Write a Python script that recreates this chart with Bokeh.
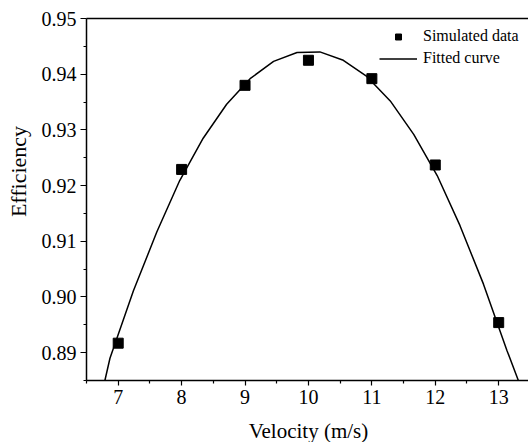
import math
from bokeh.plotting import figure
from bokeh.models import (Range1d, FixedTicker, NumeralTickFormatter, Legend,
                          LegendItem, Label, LinearAxis)
from bokeh.embed import file_html
from bokeh.resources import INLINE

# ---- data ----
velocity = [7, 8, 9, 10, 11, 12, 13]
efficiency = [0.8917, 0.9229, 0.9380, 0.9425, 0.9392, 0.9237, 0.8954]

# fitted curve vertices as they appear (starts/ends where it meets the x axis)
fit_x = [6.79, 6.87, 7.24, 7.61, 7.97, 8.34, 8.71, 9.08, 9.45, 9.82,
         10.18, 10.55, 10.92, 11.29, 11.66, 12.03, 12.39, 12.76, 13.13, 13.31]
fit_y = [0.8850, 0.8890, 0.9011, 0.9117, 0.9209, 0.9285, 0.9346, 0.9392, 0.9423, 0.9439,
         0.9440, 0.9425, 0.9396, 0.9352, 0.9292, 0.9218, 0.9128, 0.9023, 0.8904, 0.8850]

x_ticks = [7, 8, 9, 10, 11, 12, 13]
x_minor = [6.5, 7.5, 8.5, 9.5, 10.5, 11.5, 12.5]
y_ticks = [0.89, 0.90, 0.91, 0.92, 0.93, 0.94, 0.95]
y_minor = [0.885, 0.895, 0.905, 0.915, 0.925, 0.935, 0.945]

x_lo, x_hi = 6.5, 13.47
y_lo, y_hi = 0.885, 0.95

x_title = "Velocity (m/s)"
y_title = "Efficiency"
series_names = ["Simulated data", "Fitted curve"]

FONT = "Liberation Serif"

# frame covers the whole canvas; axes are pinned inside it
W, H = 528, 442
left_px, top_px, bottom_px = 86, 18, 380
sx = (W - left_px) / (x_hi - x_lo)
sy = (bottom_px - top_px) / (y_hi - y_lo)
x_start = x_lo - left_px / sx
y_end = y_hi + top_px / sy
y_start = y_lo - (H - bottom_px) / sy

p = figure(width=W, height=H, output_backend="svg", toolbar_location=None,
           x_range=Range1d(x_start, x_hi), y_range=Range1d(y_start, y_end),
           x_axis_location=None, y_axis_location=None,
           min_border=0, min_border_left=0, min_border_right=0,
           min_border_top=0, min_border_bottom=0)
p.background_fill_color = "white"
p.border_fill_color = "white"
p.outline_line_color = None
p.grid.visible = False


def style(ax):
    ax.axis_line_color = "black"
    ax.axis_line_width = 1.5
    ax.major_tick_line_color = "black"
    ax.minor_tick_line_color = "black"
    ax.major_tick_line_width = 1.2
    ax.minor_tick_line_width = 1.2
    ax.major_tick_in = 0
    ax.minor_tick_in = 0
    ax.major_label_text_font = FONT
    ax.major_label_text_font_size = "20px"
    ax.major_label_text_color = "black"
    ax.major_label_standoff = 4


xax = LinearAxis(fixed_location=y_lo, bounds=(x_lo, x_hi),
                 ticker=FixedTicker(ticks=x_ticks, minor_ticks=x_minor))
style(xax)
xax.major_tick_out = 5
xax.minor_tick_out = 3
p.add_layout(xax, "below")

yax = LinearAxis(fixed_location=x_lo, bounds=(y_lo, y_hi),
                 ticker=FixedTicker(ticks=y_ticks, minor_ticks=y_minor),
                 formatter=NumeralTickFormatter(format="0.00"))
style(yax)
yax.major_tick_out = 6
yax.minor_tick_out = 3
p.add_layout(yax, "left")

# top border (axis without ticks/labels)
tax = LinearAxis(fixed_location=y_hi, bounds=(x_lo, x_hi),
                 ticker=FixedTicker(ticks=[]), major_label_text_font_size="0px")
tax.axis_line_color = "black"
tax.axis_line_width = 1.5
tax.major_tick_line_color = None
tax.minor_tick_line_color = None
p.add_layout(tax, "above")

fit_r = p.line(fit_x, fit_y, line_color="black", line_width=1.5)
pts_r = p.scatter(velocity, efficiency, marker="square", size=10,
                  fill_color="black", line_color="black")

# axis titles
p.add_layout(Label(x=10.0, y=y_lo - 50.5 / sy, text=x_title,
                   text_font=FONT, text_font_size="21px",
                   text_align="center", text_baseline="middle", text_color="black"))
p.add_layout(Label(x=x_lo - 68 / sx, y=y_hi - 153 / sy, text=y_title,
                   text_font=FONT, text_font_size="22px",
                   text_align="center", text_baseline="middle", angle=math.pi / 2,
                   text_color="black"))

legend = Legend(items=[LegendItem(label=series_names[0], renderers=[pts_r]),
                       LegendItem(label=series_names[1], renderers=[fit_r])],
                location=(379, 375))
legend.label_text_font = FONT
legend.label_text_font_size = "16px"
legend.label_text_color = "black"
legend.glyph_width = 38
legend.glyph_height = 15
legend.label_height = 15
legend.label_standoff = 6
legend.spacing = 4
legend.padding = 0
legend.margin = 0
legend.border_line_color = None
legend.background_fill_alpha = 0
p.add_layout(legend)

open("out.html", "w").write(file_html(p, INLINE))
